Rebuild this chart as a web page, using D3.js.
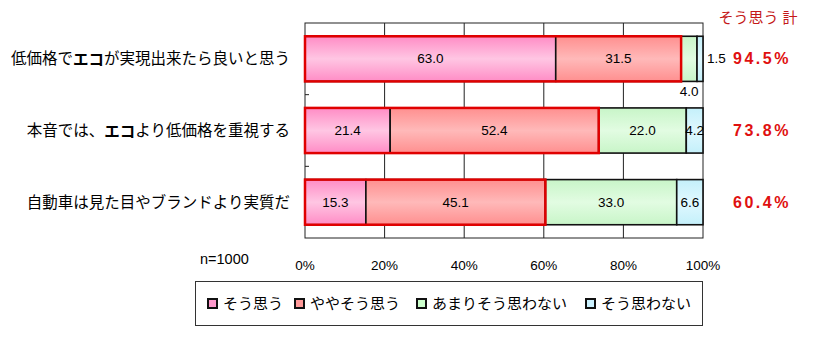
<!DOCTYPE html>
<html>
<head>
<meta charset="utf-8">
<script src="https://cdn.jsdelivr.net/npm/d3@7"></script>
<style>
  body { margin: 0; background: #fff; }
  text { font-family: "Liberation Sans", "Noto Sans CJK JP", sans-serif; }
</style>
</head>
<body>
<div id="chart"></div>
<script>
// data
const categories = [
  "低価格でエコが実現出来たら良いと思う",
  "本音では、エコより低価格を重視する",
  "自動車は見た目やブランドより実質だ"
];
const seriesNames = ["そう思う", "ややそう思う", "あまりそう思わない", "そう思わない"];
const agree = [63.0, 21.4, 15.3];
const slightlyAgree = [31.5, 52.4, 45.1];
const notReally = [4.0, 22.0, 33.0];
const disagree = [1.5, 4.2, 6.6];
const xTicks = [0, 20, 40, 60, 80, 100];
const sampleNote = "n=1000";
const totalTitle = "そう思う 計";

const series = [agree, slightlyAgree, notReally, disagree];
const swatch = ["#ff99cc", "#ff9999", "#ccffcc", "#ccf2ff"];

// size
const W = 826, H = 352;
const margin = { top: 23, left: 305, right: 123, bottom: 114 };
const width = W - margin.left - margin.right,
  height = H - margin.top - margin.bottom;

const svg = d3.select("#chart").append("svg")
  .attr("width", W).attr("height", H);

// gradients
const defs = svg.append("defs");
function vgrad(id, edge, mid) {
  const g = defs.append("linearGradient").attr("id", id)
    .attr("x1", 0).attr("y1", 0).attr("x2", 0).attr("y2", 1);
  g.append("stop").attr("offset", "0%").attr("stop-color", edge);
  g.append("stop").attr("offset", "50%").attr("stop-color", mid);
  g.append("stop").attr("offset", "100%").attr("stop-color", edge);
}
vgrad("g0", "#ff8cc5", "#ffc6e3");
vgrad("g1", "#ff8f8f", "#ffb9b9");
vgrad("g2", "#c8f5c8", "#e2fce2");
vgrad("g3", "#c4f0fa", "#e0f8ff");
const fills = ["url(#g0)", "url(#g1)", "url(#g2)", "url(#g3)"];

const g = svg.append("g")
  .attr("transform", "translate(" + margin.left + "," + margin.top + ")");

const x = d3.scaleLinear().domain([0, 100]).range([0, width]);
const y = d3.scaleBand().domain(categories).range([0, height])
  .paddingInner(0.37).paddingOuter(0.185);

// grid lines
g.selectAll(".grid").data(xTicks.slice(1, -1)).enter().append("line")
  .attr("x1", d => x(d)).attr("x2", d => x(d))
  .attr("y1", 0).attr("y2", height)
  .attr("stroke", "#222").attr("stroke-width", 1);

// frame
g.append("rect").attr("x", 0).attr("y", 0)
  .attr("width", width).attr("height", height)
  .attr("fill", "none").attr("stroke", "#222").attr("stroke-width", 1);

// category ticks on left axis
const step = y.step();
g.selectAll(".ytick").data(d3.range(1, categories.length)).enter().append("line")
  .attr("x1", 0).attr("x2", 4)
  .attr("y1", d => d * step).attr("y2", d => d * step)
  .attr("stroke", "#222");

// x tick labels
g.selectAll(".xl").data(xTicks).enter().append("text")
  .attr("x", d => x(d)).attr("y", height + 27)
  .attr("text-anchor", "middle").attr("dominant-baseline", "central")
  .style("font-size", "13.5px").text(d => d + "%");

// category labels
g.selectAll(".cl").data(categories).enter().append("text")
  .attr("x", -15).attr("y", d => y(d) + y.bandwidth() / 2)
  .attr("text-anchor", "end").attr("dominant-baseline", "central")
  .style("font-size", "15.5px")
  .html(d => d.replace("エコ", '<tspan font-weight="bold">エコ</tspan>'));

// stacked segments
categories.forEach((c, i) => {
  let start = 0;
  const by = y(c), bh = y.bandwidth();
  series.forEach((s, k) => {
    const v = s[i];
    const x0 = x(start), x1 = x(start + v);
    g.append("rect")
      .attr("x", x0).attr("y", by)
      .attr("width", x1 - x0).attr("height", bh)
      .attr("fill", fills[k]).attr("stroke", "#111").attr("stroke-width", 1.6);

    let lx = (x0 + x1) / 2, ly = by + bh / 2, anchor = "middle";
    if (k === series.length - 1 && v < 2) {
      lx = x(100) + 4; anchor = "start";
    } else if (v <= 4) {
      ly = by + bh + 10;
    }
    g.append("text")
      .attr("x", lx).attr("y", ly)
      .attr("text-anchor", anchor).attr("dominant-baseline", "central")
      .style("font-size", "13.5px")
      .text(v.toFixed(1));
    start += v;
  });

  // red outline around agree + slightly agree
  const tot = agree[i] + slightlyAgree[i];
  g.append("rect")
    .attr("x", x(0)).attr("y", by)
    .attr("width", x(tot) - x(0)).attr("height", bh)
    .attr("fill", "none").attr("stroke", "#e00000").attr("stroke-width", 2.5);

  // total label
  g.append("text")
    .attr("x", x(100) + 59).attr("y", by + bh / 2)
    .attr("text-anchor", "middle").attr("dominant-baseline", "central")
    .attr("fill", "#e01010").attr("font-weight", "bold")
    .style("font-size", "16px").style("letter-spacing", "2.5px")
    .text(tot.toFixed(1) + "%");
});

// total header
svg.append("text")
  .attr("x", 758).attr("y", 17)
  .attr("text-anchor", "middle").attr("dominant-baseline", "central")
  .attr("fill", "#c41818").style("font-size", "15px")
  .text(totalTitle);

// n note
svg.append("text")
  .attr("x", 200).attr("y", 259)
  .attr("dominant-baseline", "central")
  .style("font-size", "14.5px").text(sampleNote);

// legend
const legend = svg.append("g");
legend.append("rect")
  .attr("x", 195.5).attr("y", 281.5).attr("width", 507).attr("height", 44)
  .attr("fill", "#fff").attr("stroke", "#333").attr("stroke-width", 1);
const legX = [208, 295, 417, 586];
seriesNames.forEach((name, k) => {
  legend.append("rect")
    .attr("x", legX[k]).attr("y", 299).attr("width", 9).attr("height", 9)
    .attr("fill", swatch[k]).attr("stroke", "#111").attr("stroke-width", 2);
  legend.append("text")
    .attr("x", legX[k] + 15).attr("y", 303.5)
    .attr("dominant-baseline", "central")
    .style("font-size", "15px").text(name);
});
</script>
</body>
</html>
